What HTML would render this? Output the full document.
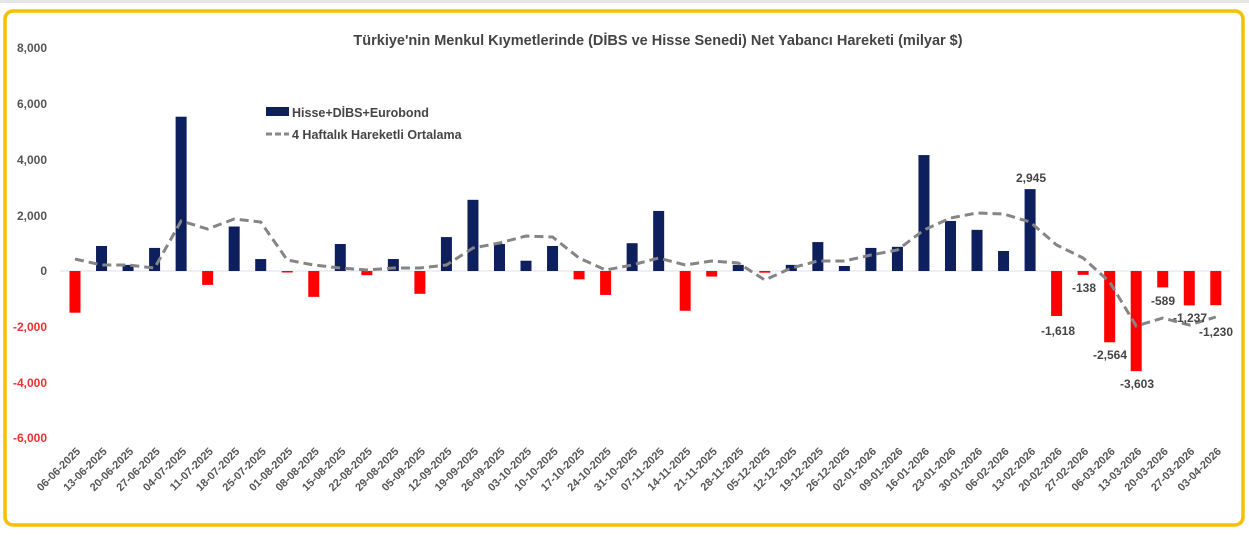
<!DOCTYPE html>
<html><head><meta charset="utf-8"><style>
html,body{margin:0;padding:0;background:#fff;width:1249px;height:539px;overflow:hidden}
svg text{font-family:"Liberation Sans",sans-serif;font-weight:bold}
</style></head><body>
<svg width="1249" height="539" viewBox="0 0 1249 539" xmlns="http://www.w3.org/2000/svg">
<rect x="0" y="0" width="1249" height="3" fill="#e6e6e6"/>
<rect x="5" y="11" width="1238" height="514" rx="8" fill="#fff" stroke="#f5c000" stroke-width="3.5"/>
<text x="658" y="45" text-anchor="middle" font-size="14.5" fill="#444">Türkiye'nin Menkul Kıymetlerinde (DİBS ve Hisse Senedi) Net Yabancı Hareketi (milyar $)</text>
<g font-size="12" text-anchor="end">
<text x="47" y="52" fill="#555">8,000</text>
<text x="47" y="108" fill="#555">6,000</text>
<text x="47" y="164" fill="#555">4,000</text>
<text x="47" y="220" fill="#555">2,000</text>
<text x="47" y="275" fill="#555">0</text>
<text x="47" y="331" fill="#f03030">-2,000</text>
<text x="47" y="387" fill="#f03030">-4,000</text>
<text x="47" y="442" fill="#f03030">-6,000</text>
</g>
<line x1="60" y1="271" x2="1230" y2="271" stroke="#dde" stroke-width="1"/>
<rect x="266" y="107" width="23" height="9" fill="#0d1f5c"/>
<text x="292" y="117" font-size="12.5" fill="#444">Hisse+DİBS+Eurobond</text>
<line x1="266" y1="134" x2="289" y2="134" stroke="#888" stroke-width="3" stroke-dasharray="6,3"/>
<text x="292" y="139" font-size="12.5" fill="#444">4 Haftalık Hareketli Ortalama</text>
<g id="bars"></g>
<g id="xl"></g>
<polyline id="ma" fill="none" stroke="#858585" stroke-width="3" stroke-dasharray="9,5"/>
<g font-size="12" fill="#444" text-anchor="middle">
<text x="1031" y="182">2,945</text>
<text x="1058" y="335">-1,618</text>
<text x="1084" y="292">-138</text>
<text x="1110" y="359">-2,564</text>
<text x="1137" y="388">-3,603</text>
<text x="1163" y="305">-589</text>
<text x="1190" y="322">-1,237</text>
<text x="1216" y="336">-1,230</text>
</g>
</svg>
<script>
var v=[-1500,900,220,830,5550,-500,1600,430,-50,-930,970,-150,430,-820,1220,2560,970,370,900,-300,-860,1000,2160,-1430,-200,220,-60,220,1040,180,830,870,4170,1800,1480,720,2945,-1618,-138,-2564,-3603,-589,-1237,-1230];
var d=["06-06-2025","13-06-2025","20-06-2025","27-06-2025","04-07-2025","11-07-2025","18-07-2025","25-07-2025","01-08-2025","08-08-2025","15-08-2025","22-08-2025","29-08-2025","05-09-2025","12-09-2025","19-09-2025","26-09-2025","03-10-2025","10-10-2025","17-10-2025","24-10-2025","31-10-2025","07-11-2025","14-11-2025","21-11-2025","28-11-2025","05-12-2025","12-12-2025","19-12-2025","26-12-2025","02-01-2026","09-01-2026","16-01-2026","23-01-2026","30-01-2026","06-02-2026","13-02-2026","20-02-2026","27-02-2026","06-03-2026","13-03-2026","20-03-2026","27-03-2026","03-04-2026"];
var m=[259,265,265,268,221,229,219,222,260,265,268,270,268,268,265,248,243,236,237,258,270,265,258,265,261,263,280,268,261,261,255,250,230,218,213,214,222,245,258,282,326,318,325,317];
var ns="http://www.w3.org/2000/svg",b=document.getElementById("bars"),xl=document.getElementById("xl"),pts=[];
for(var i=0;i<v.length;i++){var x=75+i*26.53,h=v[i]*0.0278;
var r=document.createElementNS(ns,"rect");r.setAttribute("x",x-5.5);r.setAttribute("width",11);
r.setAttribute("y",h>0?271-h:271);r.setAttribute("height",Math.max(Math.abs(h),1.5));
r.setAttribute("fill",v[i]>0?"#0d1f5c":"#ff0000");b.appendChild(r);
var t=document.createElementNS(ns,"text");t.setAttribute("font-size","11");t.setAttribute("fill","#555");
t.setAttribute("text-anchor","end");t.setAttribute("transform","translate("+(x+6)+",452) rotate(-45)");
t.textContent=d[i];xl.appendChild(t);pts.push(x+","+m[i]);}
document.getElementById("ma").setAttribute("points",pts.join(" "));
</script>
</body></html>
